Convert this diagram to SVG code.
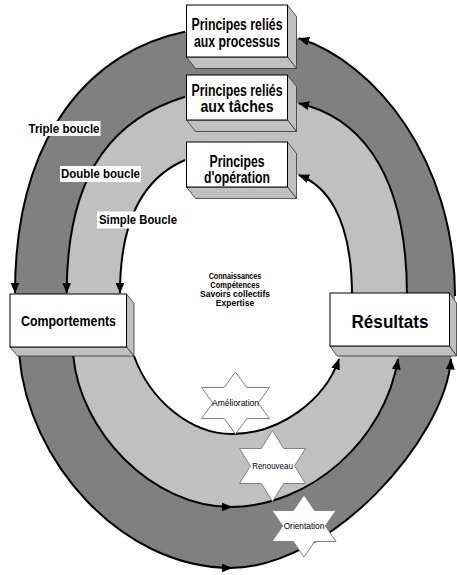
<svg xmlns="http://www.w3.org/2000/svg" width="457" height="575" viewBox="0 0 457 575">
<style>
.t{font-family:"Liberation Sans",Arial,sans-serif;font-weight:bold;fill:#000;text-anchor:middle}
.lbl{font-family:"Liberation Sans",Arial,sans-serif;font-weight:bold;fill:#000}
.st{font-family:"Liberation Sans",Arial,sans-serif;fill:#000;text-anchor:middle;font-size:8.4px}
.front{fill:#fff;stroke:#000;stroke-width:1}
.side{fill:#c0c0c0;stroke:#333;stroke-width:0.8}
.arc{fill:none;stroke:#000;stroke-width:2;marker-end:url(#ah)}
.star{fill:#fff;stroke:#808080;stroke-width:1}
.bg{fill:#fff}
</style>
<defs>
<marker id="ah" viewBox="0 0 11 9" markerWidth="11" markerHeight="9" refX="10.5" refY="4.5" orient="auto" markerUnits="userSpaceOnUse">
<path d="M0,0 L11,4.5 L0,9 z" fill="#000"/>
</marker>
<polygon id="starA" points="0,-31 11.33,-15.5 34,-15.5 22.67,0 34,15.5 11.33,15.5 0,31 -11.33,15.5 -34,15.5 -22.67,0 -34,-15.5 -11.33,-15.5"/>
</defs>
<rect width="457" height="575" fill="#fff"/>
<g id="rings">
<path d="M15,290 C15,130 95,50 185,31.7 L298.7,38.3 C375,62 455,160 455,297 L451,360 C445,440 330,568 230,568.3 C120,568 28,460 19.3,356 Z" fill="#808080"/>
<path d="M66.7,290 C66.7,165 120,116.7 185,96.7 L298.7,103.3 C350,115 407,160 407,297 L398,358 C385,440 310,507 232,507 C150,507 80,430 73.3,356 Z" fill="#c0c0c0"/>
<path d="M120,290 C120,210 150,175 185,160 L298.7,175 C325,185 352,215 352,297 L339,358 C325,400 280,434 232,434 C190,434 150,400 134,356 Z" fill="#fff"/>
</g>
<g id="connectors">
<path class="arc" d="M185,31.7 C95,50 15,130 15,293"/>
<path class="arc" d="M185,96.7 C120,116.7 66.7,165 66.7,293"/>
<path class="arc" d="M185,160 C150,175 120,210 120,293"/>
<path class="arc" d="M455,296 C455,160 375,62 298.7,38.3"/>
<path class="arc" d="M407,296 C407,160 350,115 298.7,103.3"/>
<path class="arc" d="M352,296 C352,215 325,185 298.7,175"/>
<path class="arc" d="M19.3,356 C28,460 120,568 232,568"/>
<path class="arc" d="M230,568 C330,568 445,440 451,359"/>
<path class="arc" d="M73.3,356 C80,430 150,507 232,507"/>
<path class="arc" d="M230,507 C310,507 385,440 398,359"/>
<path class="arc" d="M134,356 C150,400 190,434 232,434 C280,434 325,400 339,359"/>
</g>
<g id="loop-labels">
<rect class="bg" x="27.5" y="121" width="73" height="15"/>
<text class="lbl" x="28.5" y="132.5" font-size="13.5" textLength="71" lengthAdjust="spacingAndGlyphs">Triple boucle</text>
<rect class="bg" x="60" y="166" width="81" height="16"/>
<text class="lbl" x="61" y="177.5" font-size="13.5" textLength="79" lengthAdjust="spacingAndGlyphs">Double boucle</text>
<rect class="bg" x="97" y="211.5" width="80" height="17"/>
<text class="lbl" x="99" y="224" font-size="13.5" textLength="78" lengthAdjust="spacingAndGlyphs">Simple Boucle</text>
</g>
<g id="center-text">
<text class="t" x="235" y="279" font-size="8.8" textLength="52.7" lengthAdjust="spacingAndGlyphs">Connaissances</text>
<text class="t" x="235" y="288" font-size="8.8" textLength="49.3" lengthAdjust="spacingAndGlyphs">Compétences</text>
<text class="t" x="235" y="297" font-size="8.8" textLength="70" lengthAdjust="spacingAndGlyphs">Savoirs collectifs</text>
<text class="t" x="235" y="306" font-size="8.8" textLength="38.3" lengthAdjust="spacingAndGlyphs">Expertise</text>
</g>
<g id="box-processus">
<polygon class="side" points="287.5,5 296.5,16.5 296.5,68.5 287.5,57"/>
<polygon class="side" points="186.5,57 287.5,57 296.5,68.5 195.5,68.5"/>
<rect class="front" x="186.5" y="5" width="101" height="52"/>
<text class="t" x="237" y="30" font-size="16" textLength="91" lengthAdjust="spacingAndGlyphs">Principes reliés</text>
<text class="t" x="237" y="46.5" font-size="16" textLength="86" lengthAdjust="spacingAndGlyphs">aux processus</text>
</g>
<g id="box-taches">
<polygon class="side" points="287.5,75 296.5,86.5 296.5,131.5 287.5,120"/>
<polygon class="side" points="186.5,120 287.5,120 296.5,131.5 195.5,131.5"/>
<rect class="front" x="186.5" y="75" width="101" height="45"/>
<text class="t" x="237" y="95.5" font-size="16" textLength="91" lengthAdjust="spacingAndGlyphs">Principes reliés</text>
<text class="t" x="237" y="111.5" font-size="16" textLength="73" lengthAdjust="spacingAndGlyphs">aux tâches</text>
</g>
<g id="box-operation">
<polygon class="side" points="287.5,142 296.5,153.5 296.5,198.5 287.5,187"/>
<polygon class="side" points="186.5,187 287.5,187 296.5,198.5 195.5,198.5"/>
<rect class="front" x="186.5" y="142" width="101" height="45"/>
<text class="t" x="237" y="166.5" font-size="16" textLength="55" lengthAdjust="spacingAndGlyphs">Principes</text>
<text class="t" x="237" y="183" font-size="16" textLength="66" lengthAdjust="spacingAndGlyphs">d'opération</text>
</g>
<g id="box-comportements">
<polygon class="side" points="126.5,294 134,303.5 134,356 126.5,347"/>
<polygon class="side" points="10,347 126.5,347 134,356 17.5,356"/>
<rect class="front" x="10" y="294" width="116.5" height="53"/>
<text class="t" x="68.5" y="326" font-size="15.5" textLength="95" lengthAdjust="spacingAndGlyphs">Comportements</text>
</g>
<g id="box-resultats">
<polygon class="side" points="449.5,293 456.5,303 456.5,356 449.5,346"/>
<polygon class="side" points="330,346 449.5,346 456.5,356 337,356"/>
<rect class="front" x="330" y="293" width="119.5" height="53"/>
<text class="t" x="390" y="327.5" font-size="18.5" textLength="77" lengthAdjust="spacingAndGlyphs">Résultats</text>
</g>
<g id="star-amelioration">
<use href="#starA" class="star" transform="translate(235.5,403)"/>
<text class="st" x="235.5" y="406" textLength="47" lengthAdjust="spacingAndGlyphs">Amélioration</text>
</g>
<g id="star-renouveau">
<polygon class="star" transform="translate(272.5,466)" points="0,-35.5 11.2,-17.5 33,-17.5 22.1,0 33,17.5 11.2,17.5 0,35.5 -11.2,17.5 -33,17.5 -22.1,0 -33,-17.5 -11.2,-17.5"/>
<text class="st" x="272.5" y="469" textLength="40.7" lengthAdjust="spacingAndGlyphs">Renouveau</text>
</g>
<g id="star-orientation">
<polygon class="star" transform="translate(304,526)" points="0,-31 10.67,-15.5 32,-15.5 21.33,0 32,15.5 10.67,15.5 0,31 -10.67,15.5 -32,15.5 -21.33,0 -32,-15.5 -10.67,-15.5"/>
<text class="st" x="304" y="529" textLength="40.7" lengthAdjust="spacingAndGlyphs">Orientation</text>
</g>
</svg>
